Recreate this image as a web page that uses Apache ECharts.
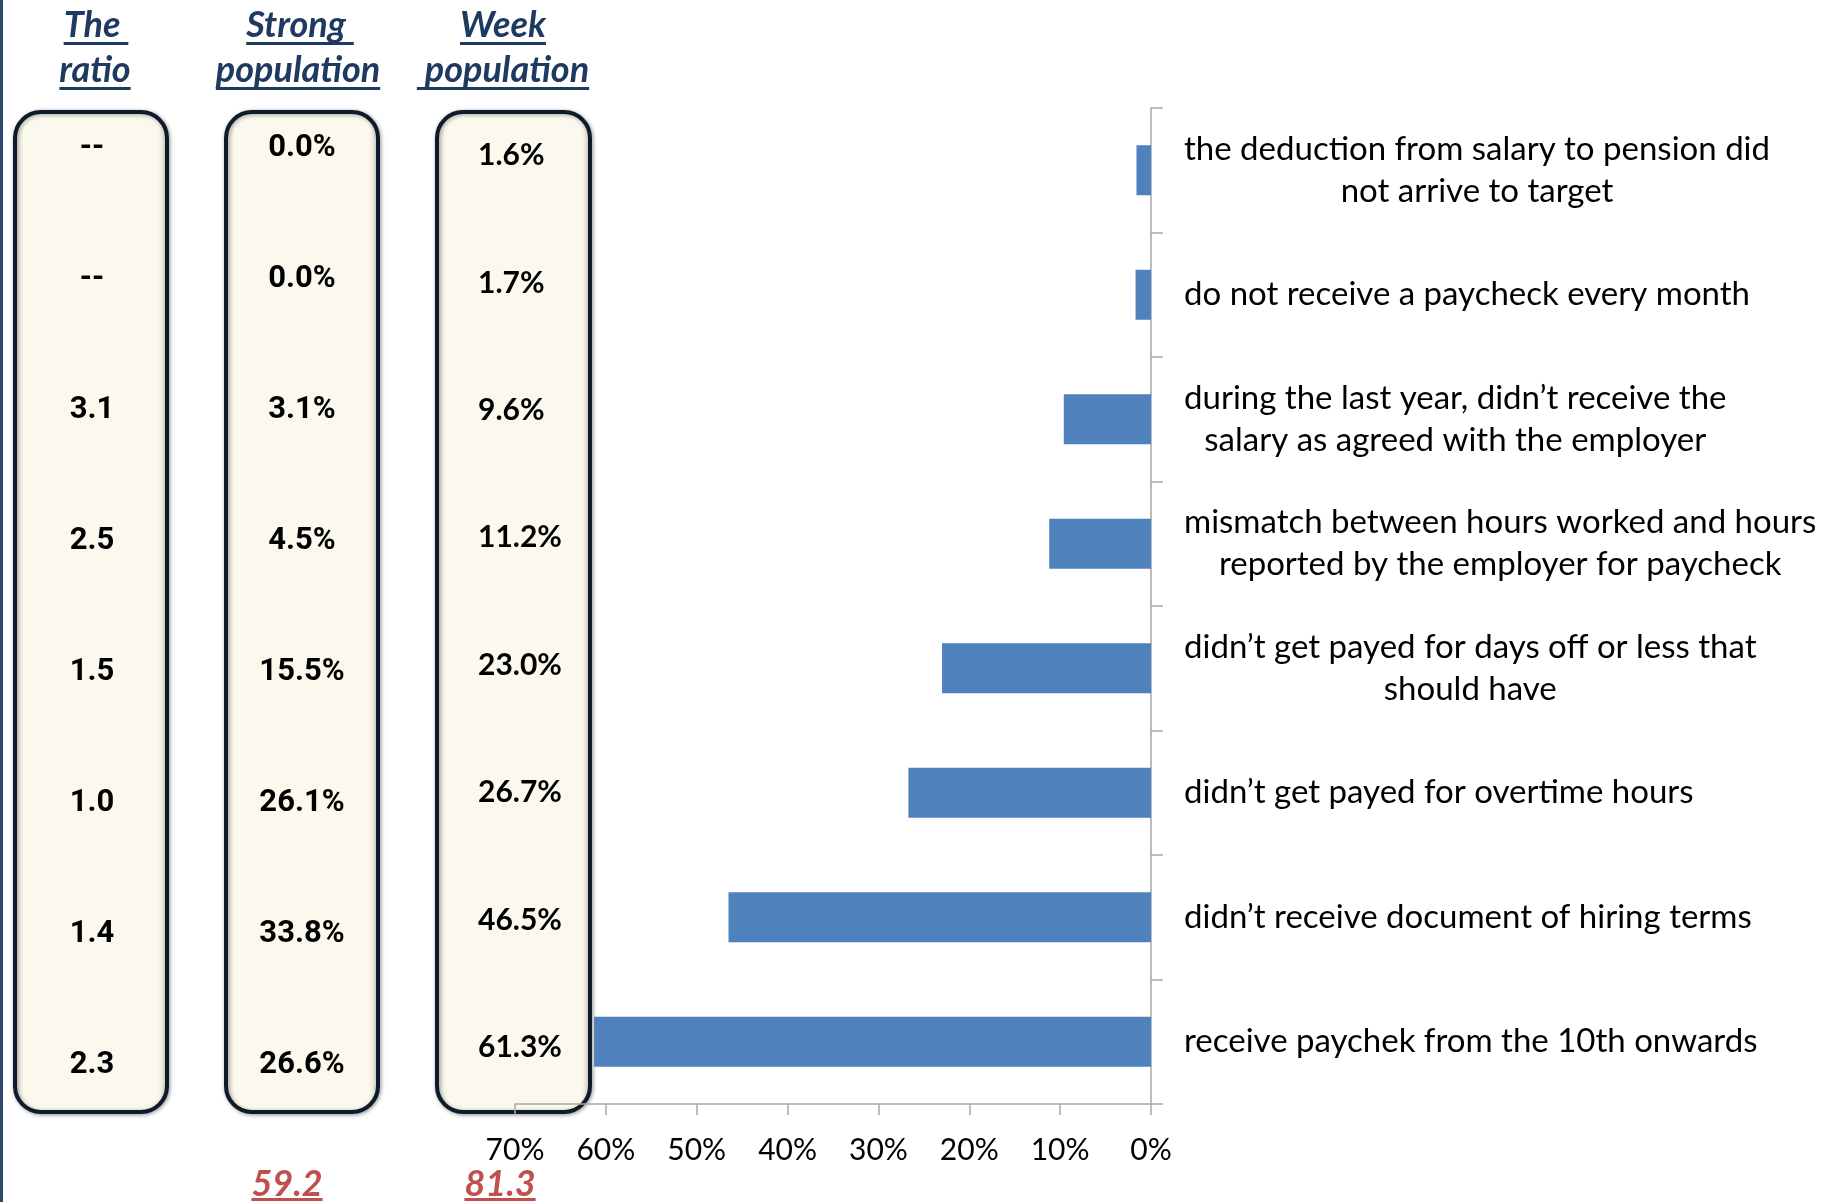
<!DOCTYPE html>
<html>
<head>
<meta charset="utf-8">
<title>Salary violations</title>
<script src="https://cdn.jsdelivr.net/npm/echarts@6/dist/echarts.min.js"></script>
<style>
  html, body { margin: 0; padding: 0; background: #fff; }
  #chart { width: 1823px; height: 1202px; }
</style>
</head>
<body>
<div id="chart"></div>
<script>
// categories, listed top to bottom
var categories = [
  'the deduction from salary to pension did\nnot arrive to target',
  'do not receive a paycheck every month',
  'during the last year, didn\u2019t receive the\nsalary as agreed with the employer',
  'mismatch between hours worked and hours\nreported by the employer for paycheck',
  'didn\u2019t get payed for days off or less that\nshould have',
  'didn\u2019t get payed for overtime hours',
  'didn\u2019t receive document of hiring terms',
  'receive paychek from the 10th onwards'
];
var ratioValues = ['--', '--', 3.1, 2.5, 1.5, 1.0, 1.4, 2.3];
var strongValues = [0.0, 0.0, 3.1, 4.5, 15.5, 26.1, 33.8, 26.6];
var weekValues = [1.6, 1.7, 9.6, 11.2, 23.0, 26.7, 46.5, 61.3]; // also the bars
var headers = [['The ', 'ratio'], ['Strong ', 'population'], ['Week', ' population']];
var totals = ['59.2', '81.3'];
var axisMin = 0, axisMax = 70, axisStep = 10;

var chart = echarts.init(document.getElementById('chart'));

var navy = '#1f3a60';
var headFont = 'italic bold 36px Lato';
var ctx = document.createElement('canvas').getContext('2d');
function textWidth(s, font) { // for underlines
  ctx.font = font;
  return ctx.measureText(s).width;
}

// underlined text (header lines, totals)
function underlined(str, cx, cy, color, gap) {
  var w = textWidth(str, headFont);
  return [{
    type: 'text', x: cx, y: cy, z: 10,
    style: { text: str, font: headFont, fill: color, align: 'center', verticalAlign: 'middle' }
  }, {
    type: 'rect', z: 10,
    shape: { x: cx - w / 2, y: cy + gap, width: w, height: 3 },
    style: { fill: color }
  }];
}

// rounded panel behind each column
function panel(x, w) {
  return {
    type: 'rect', z: 0,
    shape: { x: x, y: 112, width: w, height: 1000, r: 26 },
    style: {
      fill: new echarts.graphic.LinearGradient(0, 0, 1, 0, [
        { offset: 0, color: '#dcd8cc' }, { offset: 0.07, color: '#fbf9ee' },
        { offset: 0.93, color: '#fbf9ee' }, { offset: 1, color: '#d6d2c4' }
      ]),
      stroke: '#0e1b2b', lineWidth: 4,
      shadowBlur: 4, shadowColor: 'rgba(0,0,0,0.35)', shadowOffsetX: 1, shadowOffsetY: 1
    }
  };
}

var graphics = [
  { type: 'rect', z: 0, shape: { x: 0, y: 0, width: 3, height: 1202 }, style: { fill: '#2c4770' } },
  panel(15, 152), panel(226, 152), panel(437, 153)
];
var headX = [[96, 95], [300, 298], [503, 503]];
headers.forEach(function (lines, i) {
  graphics = graphics.concat(underlined(lines[0], headX[i][0], 25, navy, 17));
  graphics = graphics.concat(underlined(lines[1], headX[i][1], 70, navy, 17));
});
graphics = graphics.concat(underlined(totals[0], 287, 1184, '#c0504d', 14));
graphics = graphics.concat(underlined(totals[1], 500, 1184, '#c0504d', 14));

// a hidden axis that only carries one table column as its labels
function columnAxis(idx, data, align, font) {
  return {
    gridIndex: idx, type: 'category', data: data, inverse: true,
    axisLine: { show: false }, axisTick: { show: false }, splitLine: { show: false },
    axisLabel: {
      interval: 0, margin: 0, align: align, color: '#000',
      fontFamily: font.family, fontWeight: 'bold', fontSize: font.size
    }
  };
}
var narrow = { family: 'Roboto', size: 31 };

var option = {
  backgroundColor: '#fff',
  animation: false,
  graphic: graphics,
  grid: [
    { left: 515, right: 672, top: 108, bottom: 98 },
    { left: 92, width: 10, top: 83, bottom: 71 },
    { left: 302, width: 10, top: 83, bottom: 71 },
    { left: 478, width: 10, top: 92, bottom: 91 }
  ],
  xAxis: [
    {
      gridIndex: 0, type: 'value', inverse: true,
      min: axisMin, max: axisMax, interval: axisStep,
      axisLine: { show: true, lineStyle: { color: '#a6a6a6', width: 1.5 } },
      axisTick: { show: true, length: 11, lineStyle: { color: '#a6a6a6', width: 1.5 } },
      splitLine: { show: false },
      axisLabel: {
        margin: 31, color: '#000', fontFamily: 'Lato', fontSize: 30,
        formatter: '{value}%'
      }
    },
    { gridIndex: 1, type: 'value', show: false },
    { gridIndex: 2, type: 'value', show: false },
    { gridIndex: 3, type: 'value', show: false }
  ],
  yAxis: [
    {
      gridIndex: 0, type: 'category', data: categories, inverse: true, position: 'right',
      axisLine: { show: true, lineStyle: { color: '#a6a6a6', width: 1.5 } },
      axisTick: { show: true, length: 12, lineStyle: { color: '#a6a6a6', width: 1.5 } },
      axisLabel: {
        interval: 0, margin: 33, align: 'left',
        formatter: function (v) {
          return v.split('\n').map(function (l) { return '{c|' + l + '}'; }).join('\n');
        },
        rich: {
          c: { align: 'center', color: '#000', fontFamily: 'Lato', fontSize: 33, lineHeight: 42 }
        }
      }
    },
    columnAxis(1, ratioValues.map(function (v) { return v === '--' ? v : v.toFixed(1); }), 'center', narrow),
    columnAxis(2, strongValues.map(function (v) { return v.toFixed(1) + '%'; }), 'center', narrow),
    columnAxis(3, weekValues.map(function (v) { return v.toFixed(1) + '%'; }), 'left', { family: 'Lato', size: 30 })
  ],
  series: [{
    type: 'bar',
    xAxisIndex: 0, yAxisIndex: 0,
    data: weekValues,
    barWidth: 50,
    itemStyle: { color: '#4f81bd' }
  }]
};
chart.setOption(option);
</script>
</body>
</html>
